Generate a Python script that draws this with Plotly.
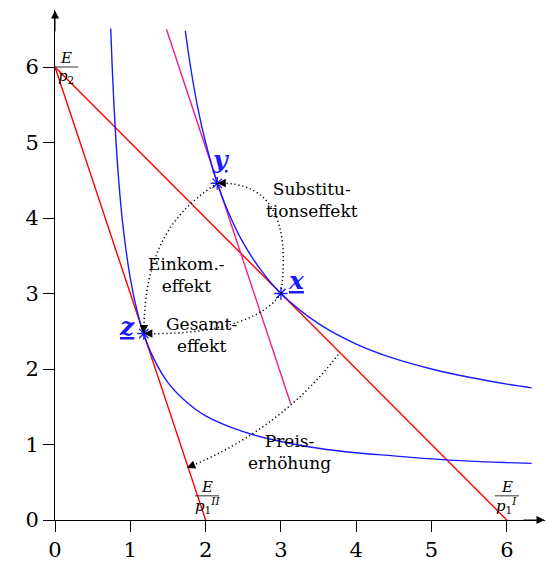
import plotly.graph_objects as go

# Budget lines (before / after the price increase of good 1)
budget_I_x = [0, 6]
budget_I_y = [6, 0]
budget_II_x = [0, 2]
budget_II_y = [6, 0]

# Compensated budget line (parallel to the new budget line, tangent at y)
comp_x = [1.48, 3.13]
comp_y = [6.50, 1.54]

# Upper indifference curve (through x and y)
ic_hi_x = [1.73, 1.8, 1.9, 2.0, 2.155, 2.3, 2.5, 2.75, 3.0, 3.5, 4.0, 4.5, 5.0, 5.5, 6.0, 6.33]
ic_hi_y = [6.48, 6.00, 5.44, 5.00, 4.46, 4.08, 3.67, 3.29, 3.00, 2.60, 2.33, 2.14, 2.00, 1.89, 1.80, 1.75]

# Lower indifference curve (through z)
ic_lo_x = [0.74, 0.76, 0.8, 0.85, 0.9, 1.0, 1.1, 1.18, 1.3, 1.5, 1.75, 2.0, 2.5, 3.0, 3.5, 4.0, 4.5, 5.0, 5.5, 6.0, 6.33]
ic_lo_y = [6.51, 5.99, 5.18, 4.45, 3.92, 3.20, 2.73, 2.46, 2.16, 1.82, 1.56, 1.38, 1.17, 1.04, 0.95, 0.89, 0.85, 0.81, 0.78, 0.76, 0.75]

# Optimal bundles
pt_names = ["x", "y", "z"]
pt_x = [3.0, 2.155, 1.18]
pt_y = [3.0, 4.46, 2.47]

ticks = [0, 1, 2, 3, 4, 5, 6]

RED = "#ff0000"
BLUE = "#1a1aff"
MAGENTA = "#ec1c8c"
SERIF = "DejaVu Serif"

fig = go.Figure()

fig.add_trace(go.Scatter(x=budget_I_x, y=budget_I_y, mode="lines",
                         line=dict(color=RED, width=1.4)))
fig.add_trace(go.Scatter(x=budget_II_x, y=budget_II_y, mode="lines",
                         line=dict(color=RED, width=1.4)))
fig.add_trace(go.Scatter(x=comp_x, y=comp_y, mode="lines",
                         line=dict(color=MAGENTA, width=1.4)))
fig.add_trace(go.Scatter(x=ic_hi_x, y=ic_hi_y, mode="lines", line_shape="spline",
                         line=dict(color=BLUE, width=1.4)))
fig.add_trace(go.Scatter(x=ic_lo_x, y=ic_lo_y, mode="lines", line_shape="spline",
                         line=dict(color=BLUE, width=1.4)))
fig.add_trace(go.Scatter(x=pt_x, y=pt_y, mode="markers",
                         marker=dict(symbol="asterisk-open", size=11, color=BLUE,
                                     line=dict(color=BLUE, width=1.3))))

# Dotted effect arcs: (start, control points..., end) as SVG path segments
px, py = dict(zip(pt_names, pt_x)), dict(zip(pt_names, pt_y))
arcs = [
    # Substitutionseffekt: x -> y
    f"M {px['x']},{py['x']} Q 3.2,4.5 {px['y']},{py['y']}",
    # Einkommenseffekt: y -> z
    f"M {px['y']},{py['y']} C 1.6,4.1 {px['z']},3.6 {px['z']},{py['z']}",
    # Gesamteffekt: x -> z
    f"M {px['x']},{py['x']} C 2.7,2.55 1.8,{py['z'] - 0.02} {px['z']},{py['z']}",
    # Preiserhöhung
    "M 3.76,2.19 Q 3.0,1.2 1.75,0.69",
]
for p in arcs:
    fig.add_shape(type="path", path=p, xref="x", yref="y",
                  line=dict(color="black", width=1.5, dash="1.2px,2.8px"))

# Arrow heads at the arc ends
heads = [
    (px["y"], py["y"], px["y"] + 0.08, py["y"] + 0.003),
    (px["z"], py["z"], px["z"], py["z"] + 0.08),
    (px["z"], py["z"], px["z"] + 0.08, py["z"]),
    (1.75, 0.69, 1.83, 0.723),
]
for hx, hy, tx, ty in heads:
    fig.add_annotation(x=hx, y=hy, ax=tx, ay=ty, xref="x", yref="y",
                       axref="x", ayref="y", text="", showarrow=True,
                       arrowhead=2, arrowsize=1.7, arrowwidth=1, arrowcolor="black",
                       standoff=0)

# Axis arrows
fig.add_annotation(x=6.5, y=0, ax=6.2, ay=0, xref="x", yref="y", axref="x", ayref="y",
                   text="", showarrow=True, arrowhead=2, arrowsize=1.6, arrowwidth=1,
                   arrowcolor="black", standoff=0)
fig.add_annotation(x=0, y=6.75, ax=0, ay=6.45, xref="x", yref="y", axref="x", ayref="y",
                   text="", showarrow=True, arrowhead=2, arrowsize=1.6, arrowwidth=1,
                   arrowcolor="black", standoff=0)

# Point labels
point_labels = {"y": (2.2, 4.77), "x": (3.21, 3.17), "z": (0.96, 2.56)}
for name, (lx, ly) in point_labels.items():
    fig.add_annotation(x=lx, y=ly, xref="x", yref="y", text=f"<b><i><u>{name}</u></i></b>",
                       showarrow=False, font=dict(family=SERIF, size=25, color=BLUE))

# Effect labels
effect_labels = [
    ("Substitu-<br>tionseffekt", 3.41, 4.24),
    ("Einkom.-<br>effekt", 1.74, 3.24),
    ("Gesamt-<br>effekt", 1.94, 2.45),
    ("Preis-<br>erhöhung", 3.12, 0.90),
]
for txt, lx, ly in effect_labels:
    fig.add_annotation(x=lx, y=ly, xref="x", yref="y", text=txt, showarrow=False,
                       font=dict(family=SERIF, size=17, color="black"), align="center")

# Intercept fractions E/p
fracs = [
    ("<i>E</i>", "<i>p</i><sub>2</sub>", 0.15, 6.0),
    ("<i>E</i>", "<i>p</i><sub>1</sub><sup><i>II</i></sup>", 2.02, 0.32),
    ("<i>E</i>", "<i>p</i><sub>1</sub><sup><i>I</i></sup>", 6.0, 0.32),
]
for num, den, fx, fy in fracs:
    fig.add_annotation(x=fx, y=fy + 0.12, xref="x", yref="y", text=num, showarrow=False,
                       font=dict(family=SERIF, size=15, color="black"))
    fig.add_annotation(x=fx, y=fy - 0.13, xref="x", yref="y", text=den, showarrow=False,
                       font=dict(family=SERIF, size=15, color="black"))
    fig.add_shape(type="line", x0=fx - 0.16, x1=fx + 0.16, y0=fy, y1=fy, xref="x", yref="y",
                  line=dict(color="black", width=0.8))

# Axis titles
fig.add_annotation(x=-0.33, y=6.5, xref="x", yref="y", text="<i>x</i><sub>2</sub>",
                   showarrow=False, font=dict(family=SERIF, size=25, color="black"))
fig.add_annotation(x=6.3, y=-0.3, xref="x", yref="y", text="<i>x</i><sub>1</sub>",
                   showarrow=False, font=dict(family=SERIF, size=25, color="black"))

axis_common = dict(showgrid=False, zeroline=False, showline=True, linecolor="black",
                   linewidth=1, ticks="outside", ticklen=11, tickcolor="black",
                   tickwidth=1, tickvals=ticks, ticktext=[str(t) for t in ticks],
                   tickfont=dict(family=SERIF, size=21, color="black"))

fig.update_layout(
    width=546, height=565,
    margin=dict(l=55, r=1, t=10, b=45),
    paper_bgcolor="white", plot_bgcolor="white",
    showlegend=False,
    xaxis=dict(range=[0, 6.507], **axis_common),
    yaxis=dict(range=[0, 6.755], **axis_common),
)

fig.write_html("out.html")
